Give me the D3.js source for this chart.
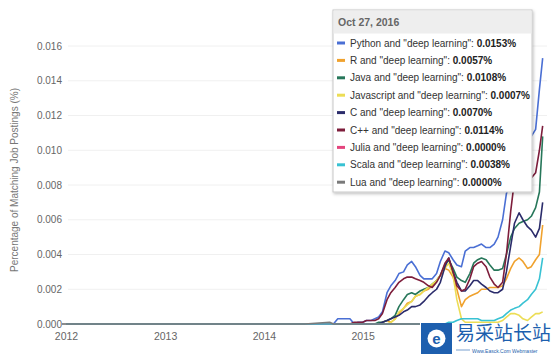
<!DOCTYPE html>
<html><head><meta charset="utf-8">
<script src="https://cdn.jsdelivr.net/npm/d3@7"></script>
<style>
html,body{margin:0;padding:0;background:#fff;}
svg{display:block;font-family:"Liberation Sans",Arial,sans-serif;}
</style></head>
<body><svg id="c" width="555" height="354"></svg>
<script>
const dates = ["2012-01-01","2014-06-01","2014-09-01","2014-09-15","2014-10-01","2014-10-15","2014-11-01","2014-11-15","2014-12-01","2014-12-15",
"2015-01-01","2015-01-15","2015-02-01","2015-02-15","2015-03-01","2015-03-15","2015-04-01","2015-04-15","2015-05-01","2015-05-15",
"2015-06-01","2015-06-15","2015-07-01","2015-07-15","2015-08-01","2015-08-15","2015-09-01","2015-09-15","2015-10-01","2015-10-15",
"2015-11-01","2015-11-15","2015-12-01","2015-12-15","2016-01-01","2016-01-15","2016-02-01","2016-02-15","2016-03-01","2016-03-15",
"2016-04-01","2016-04-15","2016-05-01","2016-05-15","2016-06-01","2016-06-15","2016-07-01","2016-07-15","2016-08-01","2016-08-15",
"2016-09-01","2016-09-15","2016-10-01","2016-10-15","2016-10-27"];

const python = [0,0,0,0,0.0003,0.0003,0.0003,0.0003,0,0.0001,
0.0001,0.0002,0.0002,0.0003,0.0004,0.0007,0.0018,0.0022,0.0025,0.0029,0.0030,0.0034,0.0036,0.0033,0.0028,0.0026,0.0026,0.0026,0.0029,0.0036,
0.0042,0.0041,0.0037,0.0034,0.0033,0.0042,0.0044,0.0044,0.0045,0.0046,0.0044,0.0044,0.0046,0.0050,0.0060,0.0075,0.0083,0.0090,0.0095,0.0100,
0.0104,0.0108,0.0112,0.0135,0.0153];
const rLang = [0,0,0,0,0,0,0,0,0,0,
0,0,0,0,0,0.0001,0.0002,0.0001,0.0003,0.0006,0.0009,0.0012,0.0013,0.0016,0.0017,0.0019,0.0020,0.0022,0.0025,0.0028,
0.0032,0.0031,0.0027,0.0020,0.0010,0.0014,0.0016,0.0017,0.0018,0.0020,0.0020,0.0021,0.0021,0.0021,0.0022,0.0026,0.0032,0.0036,0.0038,0.0036,
0.0032,0.0033,0.0037,0.0040,0.0057];
const java = [0,0,0,0,0,0,0,0,0,0,
0,0,0,0,0.0001,0.0001,0.0002,0.0003,0.0005,0.0010,0.0014,0.0017,0.0018,0.0017,0.0019,0.0020,0.0021,0.0023,0.0025,0.0028,
0.0034,0.0037,0.0032,0.0027,0.0025,0.0024,0.0029,0.0035,0.0037,0.0038,0.0037,0.0034,0.0031,0.0031,0.0032,0.0040,0.0050,0.0055,0.0058,0.0059,
0.0060,0.0062,0.0067,0.0076,0.0108];
const javascript = [0,0,0,0,0,0,0,0,0,0,
0,0,0,0,0,0,0,0.0001,0.0003,0.0007,0.0009,0.0011,0.0013,0.0016,0.0017,0.0019,0.0021,0.0023,0.0025,0.0028,
0.0032,0.0035,0.0028,0.0014,0.0003,0.0001,0.0001,0.0001,0.0001,0.0001,0.0001,0.0001,0.0001,0.0001,0.0002,0.0004,0.0006,0.0006,0.0005,0.0003,
0.0002,0.0004,0.0006,0.0006,0.0007];
const cLang = [0,0,0,0,0,0,0,0,0,0,
0,0,0,0,0,0.0001,0.0002,0.0003,0.0004,0.0005,0.0007,0.0008,0.0010,0.0010,0.0011,0.0013,0.0016,0.0018,0.0020,0.0024,
0.0033,0.0038,0.0030,0.0024,0.0019,0.0019,0.0022,0.0025,0.0025,0.0023,0.0021,0.0019,0.0018,0.0018,0.0020,0.0030,0.0045,0.0058,0.0064,0.0060,
0.0056,0.0054,0.0050,0.0055,0.0070];
const cpp = [0,0,0,0,0,0,0,0,0.0001,0.0001,
0.0001,0.0002,0.0002,0.0002,0.0003,0.0006,0.0014,0.0018,0.0021,0.0024,0.0026,0.0027,0.0027,0.0026,0.0025,0.0024,0.0022,0.0021,0.0024,0.0028,
0.0035,0.0038,0.0030,0.0022,0.0019,0.0020,0.0026,0.0033,0.0035,0.0036,0.0033,0.0027,0.0023,0.0021,0.0024,0.0040,0.0065,0.0083,0.0086,0.0084,
0.0082,0.0084,0.0087,0.0100,0.0114];
const julia = [0,0,0,0,0,0,0,0,0,0,
0,0,0,0,0,0,0,0,0,0,0,0,0,0,0,0,0,0,0,0,
0,0,0,0,0,0,0,0,0,0,0,0,0,0,0,0,0,0,0,0,
0,0,0,0,0];
const scala = [0,0,0,0,0,0,0,0,0,0,
0,0,0,0,0,0,0,0,0,0,0,0,0,0,0,0,0,0,0,0,
0,0.0001,0.0001,0.0002,0.0003,0.0003,0.0003,0.0003,0.0003,0.0002,0.0002,0.0002,0.0002,0.0003,0.0004,0.0006,0.0008,0.0009,0.0010,0.0012,
0.0014,0.0017,0.0020,0.0026,0.0038];
const lua = [0,0,0.0001,0,0,0,0,0,0,0,
0,0,0,0,0,0,0,0,0,0,0,0,0,0,0,0,0,0,0,0,
0,0,0,0,0,0,0,0,0,0,0,0,0,0,0,0,0,0,0,0,
0,0,0,0,0];

const seriesNames = ['Python and "deep learning"','R and "deep learning"','Java and "deep learning"','Javascript and "deep learning"','C and "deep learning"','C++ and "deep learning"','Julia and "deep learning"','Scala and "deep learning"','Lua and "deep learning"'];
const seriesColors = ["#4a6fd4","#f0a22e","#27775a","#ecdd55","#2b2c6b","#7d1d3b","#e4447d","#38c2d3","#7a7a7a"];
const seriesValues = [python,rLang,java,javascript,cLang,cpp,julia,scala,lua];
const tooltipDate = "Oct 27, 2016";
const tooltipValues = ["0.0153%","0.0057%","0.0108%","0.0007%","0.0070%","0.0114%","0.0000%","0.0038%","0.0000%"];
const yTicks = [0,0.002,0.004,0.006,0.008,0.010,0.012,0.014,0.016];
const xTickYears = [2012,2013,2014,2015];   // the 2016 label is hidden by the watermark in the reference
const yTitle = "Percentage of Matching Job Postings (%)";

const svg = d3.select("#c");
const parse = d3.timeParse("%Y-%m-%d");
const dts = dates.map(parse);
const x = d3.scaleTime().domain([new Date(2012,0,1), new Date(2016,10,12)]).range([66,547]);
const y = d3.scaleLinear().domain([0,0.016]).range([324,46]);

// gridlines
svg.append("g").selectAll("line").data(yTicks.slice(1)).join("line")
  .attr("x1",68).attr("x2",547).attr("y1",d=>y(d)).attr("y2",d=>y(d))
  .attr("stroke","#f0f0f0").attr("stroke-width",1);

// y axis labels
const yAxis = d3.axisLeft(y).tickValues(yTicks).tickFormat(d3.format(".3f")).tickSize(0).tickPadding(0);
const yg = svg.append("g").attr("transform","translate(62,0)").call(yAxis);
yg.select(".domain").remove();
yg.selectAll("text").attr("fill","#666").attr("font-size","10px").attr("font-family","Liberation Sans, Arial, sans-serif");

// x axis labels
const xAxis = d3.axisBottom(x).tickValues(xTickYears.map(yr=>new Date(yr,0,1))).tickFormat(d3.timeFormat("%Y")).tickSize(0).tickPadding(0);
const xg = svg.append("g").attr("transform","translate(0,333)").call(xAxis);
xg.select(".domain").remove();
xg.selectAll("text").attr("fill","#666").attr("font-size","10.5px").attr("font-family","Liberation Sans, Arial, sans-serif");

// baseline
svg.append("line").attr("x1",62).attr("x2",547).attr("y1",y(0)).attr("y2",y(0)).attr("stroke","#666").attr("stroke-width",1.5);

// y title
svg.append("text").attr("transform","translate(18,180) rotate(-90)").attr("text-anchor","middle")
  .attr("font-size","10px").attr("fill","#777").text(yTitle);

// lines
const line = d3.line().x((d,i)=>x(dts[i])).y(d=>y(d));
seriesValues.forEach((vals,k)=>{
  svg.append("path").datum(vals).attr("d",line).attr("fill","none")
    .attr("stroke",seriesColors[k]).attr("stroke-width",1.6).attr("stroke-linejoin","round");
});

// tooltip
const tx=333, ty=10, tw=199, th=182;
const defs = svg.append("defs");
const f = defs.append("filter").attr("id","sh").attr("x","-10%").attr("y","-10%").attr("width","130%").attr("height","130%");
f.append("feDropShadow").attr("dx",1).attr("dy",1.5).attr("stdDeviation",1.5).attr("flood-color","#000").attr("flood-opacity",0.25);
const tg = svg.append("g");
tg.append("rect").attr("x",tx).attr("y",ty).attr("width",tw).attr("height",th).attr("fill","#fff").attr("stroke","#c8c8c8").attr("filter","url(#sh)");
tg.append("rect").attr("x",tx+0.5).attr("y",ty+0.5).attr("width",tw-1).attr("height",23).attr("fill","#eeeeee");
tg.append("text").attr("x",tx+5).attr("y",ty+16).attr("font-size","10.5px").attr("font-weight","bold").attr("fill","#666").text(tooltipDate);
const rows = tg.selectAll("g.row").data(seriesNames).join("g").attr("class","row")
  .attr("transform",(d,i)=>`translate(${tx},${43+i*17.4})`);
rows.append("line").attr("x1",4).attr("x2",12).attr("y1",0).attr("y2",0).attr("stroke",(d,i)=>seriesColors[i]).attr("stroke-width",3);
const rt = rows.append("text").attr("x",17).attr("y",3.5).attr("font-size","10px").attr("fill","#333");
rt.append("tspan").text(d=>d+": ");
rt.append("tspan").attr("font-weight","bold").attr("fill","#222").text((d,i)=>tooltipValues[i]);

// watermark
const wm = svg.append("g");
wm.append("rect").attr("x",420).attr("y",323).attr("width",135).attr("height",31).attr("fill","#fff");
wm.append("rect").attr("x",421).attr("y",323).attr("width",31).attr("height",31).attr("fill","#1d5fae");
wm.append("circle").attr("cx",436.5).attr("cy",338.5).attr("r",9).attr("fill","#fff");
wm.append("text").attr("x",436.5).attr("y",343.5).attr("text-anchor","middle").attr("font-size","15px").attr("font-weight","bold").attr("fill","#1d5fae").text("e");
wm.append("text").attr("x",456).attr("y",340).attr("font-size","19px").attr("fill","#1d5fae").attr("font-family","Noto Sans CJK SC").text("易采站长站");
wm.append("line").attr("x1",456).attr("x2",470).attr("y1",350).attr("y2",350).attr("stroke","#1d5fae").attr("stroke-width",0.6);
wm.append("text").attr("x",472).attr("y",352.5).attr("font-size","5px").attr("fill","#1d5fae").text("Www.Easck.Com  Webmaster");
</script></body></html>
